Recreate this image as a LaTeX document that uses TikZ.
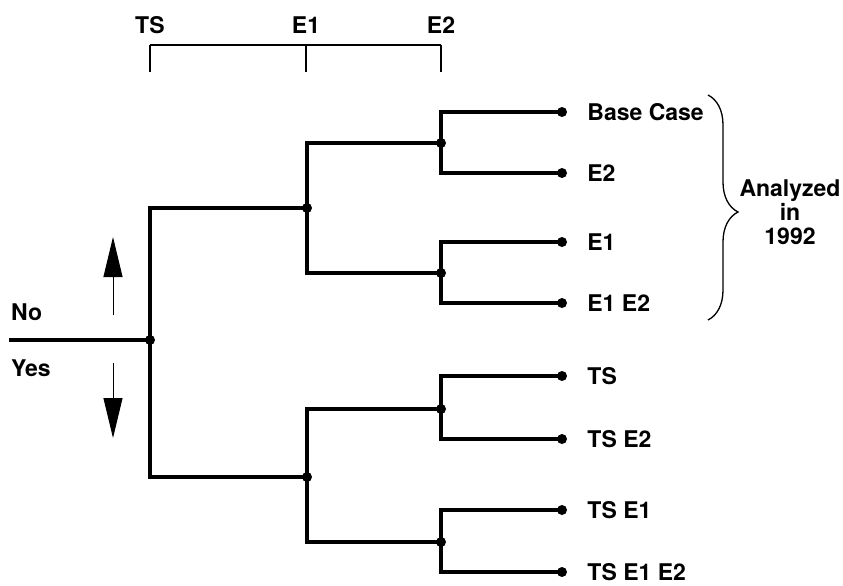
\documentclass[tikz,border=0pt]{standalone}
\usepackage{fontspec}
\setmainfont{TeX Gyre Heros}
\usetikzlibrary{positioning,arrows.meta,decorations.pathreplacing}

\begin{document}
\begin{tikzpicture}[x=1pt,y=-1pt,
    branch/.style={line width=3.5pt},
    dot/.style={circle,fill,inner sep=0pt,minimum size=10pt},
    lbl/.style={font=\fontsize{23}{24}\selectfont\bfseries,inner sep=0pt},
    thin/.style={line width=1.2pt}]
    \useasboundingbox (0,0) rectangle (843,586);

    % scale on top
    \foreach \x/\n/\t in {150/TS/TS,306/Eone/E1,441/Etwo/E2}{
        \coordinate (s\n) at (\x,45);
        \draw[thin] (s\n) -- ++(0,27);
        \node[lbl] (h\n) at (\x,25) {\t};
    }
    \draw[thin] (sTS) -- (sEtwo);

    % decision points
    \coordinate (in) at (9,340);
    \node[dot] (root) at (150,340) {};
    \node[dot] (n0) at (307,208) {};
    \node[dot] (n1) at (307,477) {};
    \node[dot] (n00) at (441,143) {};
    \node[dot] (n01) at (441,273) {};
    \node[dot] (n10) at (441,409) {};
    \node[dot] (n11) at (441,542) {};

    % cases
    \foreach \i/\y/\t in {1/112/Base Case,2/173/E2,3/242/E1,4/303/E1 E2,
                          5/376/TS,6/439/TS E2,7/510/TS E1,8/572/TS E1 E2}{
        \node[dot] (l\i) at (562,\y) {};
        \node[lbl,right=20pt of l\i] (c\i) {\t};
    }

    \draw[branch] (in) -- (root.center);
    \foreach \p/\a/\b in {root/n0/n1,n0/n00/n01,n1/n10/n11,
                          n00/l1/l2,n01/l3/l4,n10/l5/l6,n11/l7/l8}{
        \draw[branch] (\a.center) -| (\p.center) |- (\b.center);
    }

    % no / yes
    \node[lbl,anchor=west] (no) at (11,312) {No};
    \node[lbl,anchor=west] (yes) at (11,368) {Yes};
    \coordinate (upA) at (113,315);
    \coordinate (upB) at (113,237);
    \coordinate (dnA) at (113,363);
    \coordinate (dnB) at (113,438);
    \draw[line width=1pt,-{Triangle[length=40pt,width=19pt]}] (upA) -- (upB);
    \draw[line width=1pt,-{Triangle[length=40pt,width=19pt]}] (dnA) -- (dnB);

    % brace
    \coordinate (bTop) at (708,95);
    \coordinate (bBot) at (708,320);
    \draw[line width=1.3pt,decorate,decoration={brace,amplitude=30pt,aspect=0.52}] (bTop) -- (bBot);
    \node[lbl,align=center] (analyzed) at (790,212) {Analyzed\\in\\1992};
\end{tikzpicture}
\end{document}
